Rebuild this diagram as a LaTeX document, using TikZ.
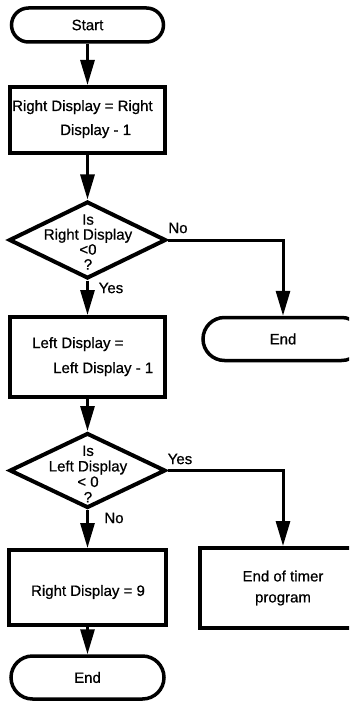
\documentclass[tikz,border=0pt]{standalone}
\usepackage{fontspec}
\setmainfont{Liberation Sans}[FakeBold=0.7]
\usetikzlibrary{shapes.geometric,shapes.misc,arrows.meta}
\begin{document}
\begin{tikzpicture}[x=1pt,y=-1pt,
  every node/.style={font=\fontsize{15}{15}\selectfont, inner sep=0pt},
  term/.style={draw, rounded rectangle, line width=3.5pt},
  proc/.style={draw, rectangle, line width=4pt},
  dec/.style={draw, diamond, line width=4pt},
  txt/.style={anchor=base west},
  lbl/.style={anchor=center},
  conn/.style={line width=3pt, -{Triangle[length=25pt,width=14pt]}}
]
\useasboundingbox (0,0) rectangle (349,703);
\clip (0,0) rectangle (349,703);

% main column
\node[term, minimum width=152pt, minimum height=34pt] (start) at (87.5,25) {Start};
\node[proc, minimum width=155pt, minimum height=66pt] (b1) at (87.5,120) {};
\node[txt] (b1a) at (12,111) {Right Display = Right};
\node[txt] (b1b) at (60,135) {Display - 1};

\node[dec, minimum width=157pt, minimum height=77pt] (d1) at (87.5,240) {};
\node[lbl, align=center] (d1t) at (88,242) {Is\\Right Display\\<0\\?};

\node[proc, minimum width=155pt, minimum height=80pt] (b2) at (87.5,357) {};
\node[txt] (b2a) at (32,348) {Left Display =};
\node[txt] (b2b) at (53,373) {Left Display - 1};

\node[dec, minimum width=156pt, minimum height=75pt] (d2) at (87.5,470.5) {};
\node[lbl, align=center, font=\fontsize{15}{15.5}\selectfont] (d2t) at (88,474) {Is\\Left Display\\< 0\\?};

\node[proc, minimum width=157pt, minimum height=75pt] (b3) at (87.5,587.5) {};
\node[lbl] (b3t) at (88,592) {Right Display = 9};

\node[term, minimum width=153pt, minimum height=43pt] (e3) at (87.5,677.5) {End};

% right column
\node[term, minimum width=160pt, minimum height=43pt] (e2) at (283,339) {End};
\node[proc, minimum width=166pt, minimum height=80pt, align=center] (b4) at (283,588) {End of timer\\[6pt]program};

% connectors
\draw[conn] (start) -- (b1);
\draw[conn] (b1) -- (d1);
\draw[conn] (d1) -- (b2);
\draw[conn] (b2) -- (d2);
\draw[conn] (d2) -- (b3);
\draw[conn] (b3) -- (e3);
\draw[conn] (d1.east) -| (e2.north);
\draw[conn] (d2.east) -| (b4.north);

% branch labels
\node[lbl] (no1) at (178,228) {No};
\node[lbl] (yes1) at (111,288) {Yes};
\node[lbl] (yes2) at (180,459) {Yes};
\node[lbl] (no2) at (114,518) {No};
\end{tikzpicture}
\end{document}
